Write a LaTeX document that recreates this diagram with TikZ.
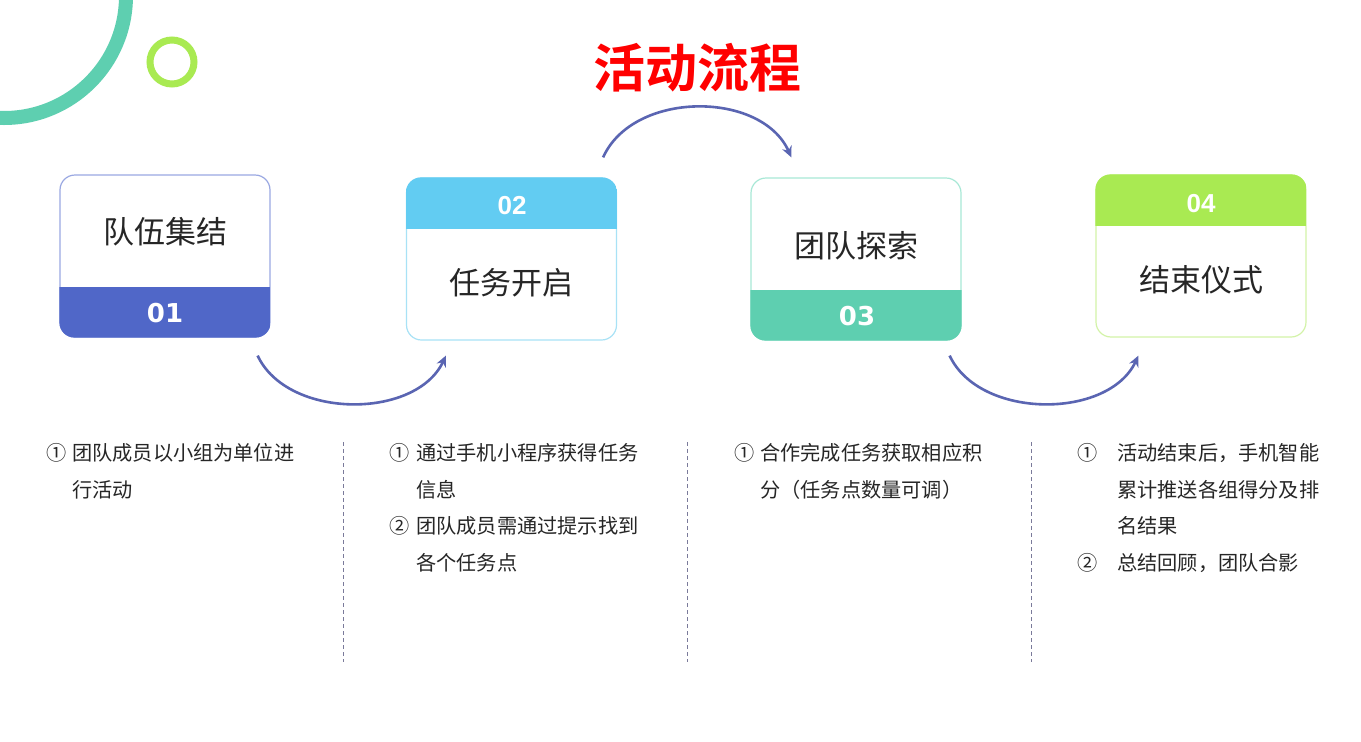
\documentclass[tikz,border=0pt]{standalone}
\usepackage{fontspec}
\setmainfont{Noto Sans CJK SC}
\newfontfamily\cjk{Noto Sans CJK SC}
\newfontfamily\titlefont{Noto Sans CJK SC Bold}
\newfontfamily\numA{DejaVu Sans}
\newfontfamily\numB{Liberation Sans}
\usetikzlibrary{arrows.meta}
\definecolor{teal1}{HTML}{5ECFB0}
\definecolor{lime1}{HTML}{A9EA52}
\definecolor{blue1}{HTML}{5067C8}
\definecolor{sky1}{HTML}{62CCF2}
\definecolor{line1}{HTML}{9AA8E2}
\definecolor{line2}{HTML}{A8E2F6}
\definecolor{line3}{HTML}{A8E8D6}
\definecolor{line4}{HTML}{D3F3A8}
\definecolor{arcc}{HTML}{5A65B2}
\definecolor{txt}{HTML}{262626}
\definecolor{dashc}{HTML}{7A7A9A}
\tikzset{
  card/.style={draw, line width=1.2pt, rounded corners=15pt, minimum width=210pt, minimum height=162pt, inner sep=0pt, fill=white},
  cardtext/.style={font=\cjk\fontsize{31}{31}\selectfont, text=txt, inner sep=0pt},
  numtextA/.style={font=\numA\bfseries\fontsize{26}{26}\selectfont, text=white, inner sep=0pt},
  numtextB/.style={font=\numB\bfseries\fontsize{26}{26}\selectfont, text=white, inner sep=0pt},
  flow/.style={draw=arcc, line width=2.6pt, -{Stealth[length=11pt,width=10pt]}},
  sep/.style={draw=dashc, line width=0.9pt, dash pattern=on 4pt off 3pt},
  body/.style={font=\cjk\fontsize{20.2}{20.2}\selectfont, text=txt, anchor=base west, inner sep=0pt}
}
\begin{document}
\begin{tikzpicture}[x=1pt,y=-1pt]
\useasboundingbox (0,0) rectangle (1361,742);
\fill[white] (0,0) rectangle (1361,742);
\begin{scope}
\clip (0,0) rectangle (1361,742);
\draw[teal1, line width=14pt] (4,-4) circle[radius=122];
\end{scope}
\draw[lime1, line width=7pt] (172,62) circle[radius=22];
\node[font=\titlefont\fontsize{52}{52}\selectfont, text=red, inner sep=0pt] (title) at (697,68) {活动流程};

% card 1
\node[card, draw=line1] (b1) at (165,256) {};
\begin{scope}
\clip[rounded corners=15pt] (b1.north west) rectangle (b1.south east);
\fill[blue1] (b1.south west) rectangle ([yshift=51pt]b1.south east);
\end{scope}
\node[cardtext] (t1) at (165,232) {队伍集结};
\node[numtextA] (n1) at (165,313) {01};

% card 2
\node[card, draw=line2] (b2) at (511.5,259) {};
\begin{scope}
\clip[rounded corners=15pt] (b2.north west) rectangle (b2.south east);
\fill[sky1] (b2.north west) rectangle ([yshift=-52pt]b2.north east);
\end{scope}
\node[cardtext] (t2) at (511,283) {任务开启};
\node[numtextB] (n2) at (512,206) {02};

% card 3
\node[card, draw=line3] (b3) at (856,259) {};
\begin{scope}
\clip[rounded corners=15pt] (b3.north west) rectangle (b3.south east);
\fill[teal1] (b3.south west) rectangle ([yshift=51pt]b3.south east);
\end{scope}
\node[cardtext] (t3) at (856,246) {团队探索};
\node[numtextA] (n3) at (857,316) {03};

% card 4
\node[card, draw=line4] (b4) at (1201,256) {};
\begin{scope}
\clip[rounded corners=15pt] (b4.north west) rectangle (b4.south east);
\fill[lime1] (b4.north west) rectangle ([yshift=-52pt]b4.north east);
\end{scope}
\node[cardtext] (t4) at (1201,280) {结束仪式};
\node[numtextB] (n4) at (1201,204) {04};

% connectors
\draw[flow] ([xshift=-13pt,yshift=-18pt]b1.south east) .. controls +(30,64) and +(-30,64) .. ([xshift=40pt,yshift=-15pt]b2.south west);
\draw[flow] ([xshift=-14pt,yshift=20pt]b2.north east) .. controls +(30,-67) and +(-30,-67) .. ([xshift=41pt,yshift=20pt]b3.north west);
\draw[flow] ([xshift=-12pt,yshift=-15pt]b3.south east) .. controls +(30,64) and +(-30,64) .. ([xshift=43pt,yshift=-18pt]b4.south west);

% separators
\draw[sep] (343,442) -- (343,662);
\draw[sep] (687,442) -- (687,662);
\draw[sep] (1031,442) -- (1031,662);

% column 1
\node[body] (c1a) at (46,460) {①};
\node[body] (c1b) at (72,460) {团队成员以小组为单位进};
\node[body] (c1c) at (72,497) {行活动};
% column 2
\node[body] (c2a) at (389,460) {①};
\node[body] (c2b) at (416,460) {通过手机小程序获得任务};
\node[body] (c2c) at (416,497) {信息};
\node[body] (c2d) at (389,533) {②};
\node[body] (c2e) at (416,533) {团队成员需通过提示找到};
\node[body] (c2f) at (416,570) {各个任务点};
% column 3
\node[body] (c3a) at (734,460) {①};
\node[body] (c3b) at (760,460) {合作完成任务获取相应积};
\node[body] (c3c) at (760,497) {分（任务点数量可调）};
% column 4
\node[body] (c4a) at (1077,460) {①};
\node[body] (c4b) at (1117,460) {活动结束后，手机智能};
\node[body] (c4c) at (1117,497) {累计推送各组得分及排};
\node[body] (c4d) at (1117,533) {名结果};
\node[body] (c4e) at (1077,570) {②};
\node[body] (c4f) at (1117,570) {总结回顾，团队合影};
\end{tikzpicture}
\end{document}
